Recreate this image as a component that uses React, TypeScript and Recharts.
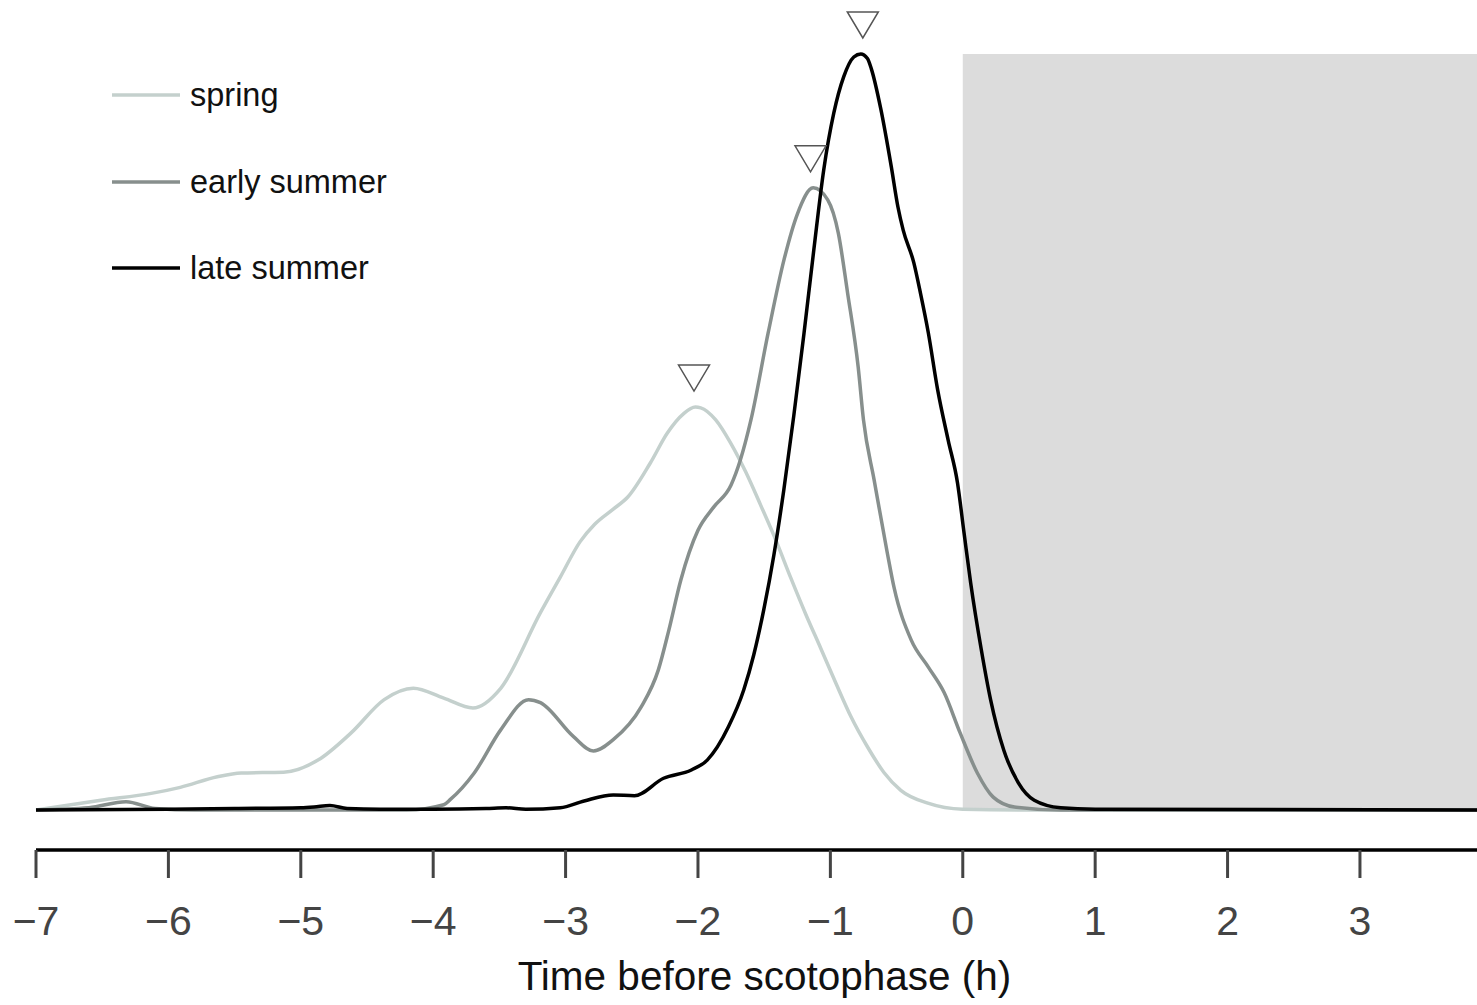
import React from 'react';
import { ComposedChart, Line, XAxis, YAxis, ReferenceArea, Scatter } from 'recharts';

// ---- data ----
const xTicks = [-7, -6, -5, -4, -3, -2, -1, 0, 1, 2, 3];
const xMin = -7;
const xMax = 3.884;
const darkStart = 0;

const seriesNames = ['spring', 'early summer', 'late summer'];
const seriesColors = ['#c4d0cd', '#878f8d', '#000000'];
const seriesWidths = [3.5, 3.5, 3.5];

const springPts: [number, number][] = [
  [-7.0, 0], [-6.51, 0.013], [-6.13, 0.022], [-5.91, 0.030], [-5.63, 0.044], [-5.45, 0.049],
  [-5.13, 0.050], [-4.87, 0.066], [-4.62, 0.102], [-4.37, 0.146], [-4.15, 0.161], [-3.92, 0.148],
  [-3.70, 0.135], [-3.49, 0.161], [-3.19, 0.261], [-3.04, 0.308], [-2.89, 0.355], [-2.78, 0.378],
  [-2.64, 0.398], [-2.53, 0.414], [-2.36, 0.459], [-2.23, 0.499], [-2.11, 0.524], [-2.02, 0.533],
  [-1.979, 0.532], [-1.866, 0.516], [-1.752, 0.485], [-1.639, 0.447], [-1.526, 0.403],
  [-1.412, 0.357], [-1.299, 0.307], [-1.186, 0.259], [-1.073, 0.214], [-0.959, 0.168],
  [-0.846, 0.124], [-0.718, 0.083], [-0.597, 0.050], [-0.468, 0.026], [-0.264, 0.009],
  [0, 0.001], [0.5, 0], [3.884, 0],
];

const earlyPts: [number, number][] = [
  [-7.0, 0], [-6.6, 0.003], [-6.32, 0.011], [-6.1, 0.002], [-5.8, 0], [-4.2, 0], [-3.92, 0.007],
  [-3.87, 0.014], [-3.69, 0.049], [-3.49, 0.106], [-3.28, 0.146], [-3.19, 0.142], [-2.94, 0.097],
  [-2.79, 0.078], [-2.64, 0.093], [-2.43, 0.136], [-2.30, 0.185], [-2.22, 0.238], [-2.13, 0.304],
  [-2.00, 0.370], [-1.88, 0.401], [-1.75, 0.430], [-1.68, 0.463], [-1.60, 0.516], [-1.47, 0.631],
  [-1.35, 0.728], [-1.25, 0.788], [-1.13, 0.823], [-1.02, 0.807], [-0.94, 0.763], [-0.87, 0.684],
  [-0.79, 0.586], [-0.75, 0.516], [-0.67, 0.437], [-0.57, 0.340], [-0.52, 0.295], [-0.39, 0.225],
  [-0.26, 0.189], [-0.14, 0.155], [-0.02, 0.102], [0.11, 0.049], [0.23, 0.017], [0.39, 0.004],
  [0.74, 0], [3.884, 0],
];

const latePts: [number, number][] = [
  [-7.0, 0], [-6.0, 0.001], [-5.5, 0.002], [-5.0, 0.003], [-4.9, 0.004], [-4.78, 0.006],
  [-4.65, 0.002], [-4.4, 0.001], [-4.0, 0.001], [-3.6, 0.002], [-3.45, 0.003], [-3.3, 0.001],
  [-3.04, 0.003], [-2.86, 0.012], [-2.64, 0.020], [-2.48, 0.019], [-2.26, 0.042], [-2.05, 0.053],
  [-1.93, 0.066], [-1.77, 0.110], [-1.654, 0.159], [-1.579, 0.205], [-1.503, 0.265],
  [-1.427, 0.337], [-1.352, 0.423], [-1.276, 0.522], [-1.201, 0.628], [-1.125, 0.741],
  [-1.050, 0.847], [-0.974, 0.922], [-0.899, 0.970], [-0.823, 0.996], [-0.77, 1.0],
  [-0.72, 0.994], [-0.69, 0.980], [-0.62, 0.928], [-0.54, 0.851], [-0.49, 0.798],
  [-0.45, 0.767], [-0.37, 0.724], [-0.32, 0.684], [-0.26, 0.631], [-0.19, 0.556], [-0.11, 0.489],
  [-0.04, 0.433], [0.01, 0.366], [0.06, 0.300], [0.14, 0.212], [0.21, 0.146], [0.31, 0.079],
  [0.42, 0.036], [0.54, 0.013], [0.74, 0.003], [1.0, 0.001], [3.884, 0],
];

const peakX = [-2.03, -1.15, -0.755];
const peakY = [0.533, 0.823, 1.0];

// ---- derived tables ----
const toRows = (pts: [number, number][]) => pts.map(([x, y]) => ({ x, y }));
const seriesData = [toRows(springPts), toRows(earlyPts), toRows(latePts)];
const peaks = peakX.map((x, i) => ({ x, y: peakY[i] }));

const FONT = '"Liberation Sans", Arial, Helvetica, sans-serif';

const Tri = (props: any) => {
  const { cx, cy } = props;
  if (cx == null || cy == null) return null;
  const tip = cy - 16;
  const top = cy - 42;
  return (
    <path
      d={`M${cx - 15.5},${top} L${cx + 15.5},${top} L${cx},${tip} Z`}
      fill="#ffffff"
      stroke="#555555"
      strokeWidth={1.5}
    />
  );
};

const fmt = (v: number) => (v < 0 ? '\u2212' + Math.abs(v) : String(v));

export default function App() {
  return (
    <div style={{ position: 'absolute', left: 0, top: 0, width: 1477, height: 1005, background: '#fff' }}>
      <ComposedChart
        width={1477}
        height={1005}
        margin={{ top: 54, right: 0, bottom: 0, left: 36 }}
        style={{ overflow: 'visible' }}
      >
        <XAxis
          type="number"
          dataKey="x"
          domain={[xMin, xMax]}
          ticks={xTicks}
          height={155}
          axisLine={{ stroke: '#000', strokeWidth: 3.5 }}
          tickLine={{ stroke: '#444', strokeWidth: 3 }}
          tickSize={28}
          tickMargin={28}
          tick={{ fill: '#444', fontSize: 41, fontFamily: FONT }}
          tickFormatter={fmt}
          interval={0}
        />
        <YAxis type="number" domain={[-0.0529, 1]} hide />
        <ReferenceArea
          x1={darkStart}
          x2={xMax}
          y1={0}
          y2={1}
          fill="#dcdcdc"
          fillOpacity={1}
          stroke="none"
          ifOverflow="visible"
        />
        {seriesData.map((d, i) => (
          <Line
            key={seriesNames[i]}
            data={d}
            dataKey="y"
            name={seriesNames[i]}
            type="monotone"
            stroke={seriesColors[i]}
            strokeWidth={seriesWidths[i]}
            dot={false}
            activeDot={false}
            isAnimationActive={false}
          />
        ))}
        <Scatter data={peaks} dataKey="y" shape={<Tri />} isAnimationActive={false} />
      </ComposedChart>
      <div style={{ position: 'absolute', left: 100, top: 70, fontFamily: FONT }}>
        {seriesNames.map((n, i) => (
          <div key={n} style={{ position: 'absolute', left: 0, top: i * 86.5, width: 400, height: 50 }}>
            <svg width={90} height={50} style={{ position: 'absolute', left: 0, top: 0 }}>
              <line x1={12} x2={80} y1={25} y2={25} stroke={seriesColors[i]} strokeWidth={seriesWidths[i]} />
            </svg>
            <div style={{ position: 'absolute', left: 90, top: 7, fontSize: 32.5, lineHeight: '36px', color: '#111', whiteSpace: 'nowrap' }}>
              {n}
            </div>
          </div>
        ))}
      </div>
      <div
        style={{
          position: 'absolute',
          left: 264.5,
          width: 1000,
          top: 956,
          textAlign: 'center',
          fontSize: 40.5,
          lineHeight: '40px',
          fontFamily: FONT,
          color: '#111',
          whiteSpace: 'nowrap',
        }}
      >
        Time before scotophase (h)
      </div>
    </div>
  );
}
